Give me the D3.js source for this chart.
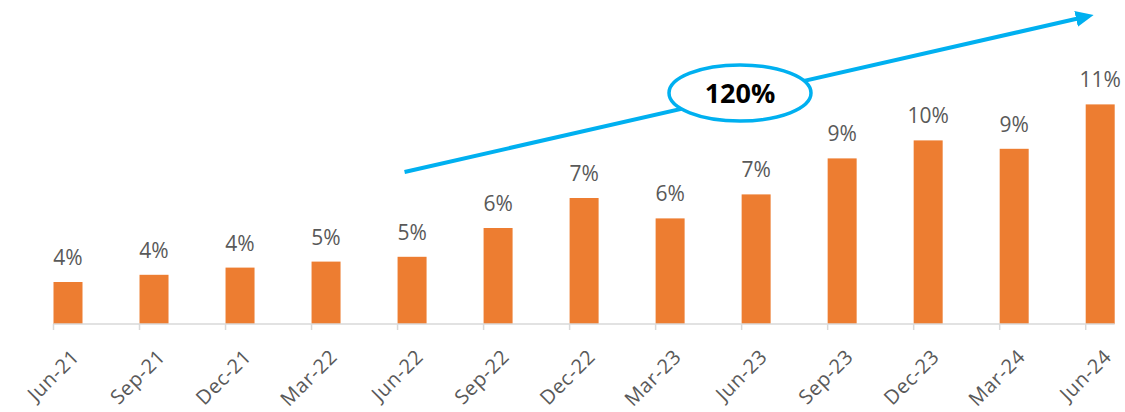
<!DOCTYPE html>
<html>
<head>
<meta charset="utf-8">
<script src="https://cdn.jsdelivr.net/npm/d3@7"></script>
<style>
  body { margin: 0; background: #fff; }
  svg { display: block; }
</style>
</head>
<body>
<div id="chart"></div>
<script>
// quarter labels on the category axis
const quarters = ['Jun-21', 'Sep-21', 'Dec-21', 'Mar-22', 'Jun-22', 'Sep-22', 'Dec-22',
  'Mar-23', 'Jun-23', 'Sep-23', 'Dec-23', 'Mar-24', 'Jun-24']
// share values in %
const shares = [3.75, 4.05, 4.35, 4.6, 4.8, 6.0, 7.25, 6.4, 7.4, 8.9, 9.65, 9.3, 11.15]
// growth callout
const growthLabel = ['120%']
const growthFrom = ['Jun-22']

const width = 1125
const height = 412
const barW = 29

const svg = d3.select('#chart')
  .append('svg')
    .attr('width', width)
    .attr('height', height)

const x = d3.scalePoint()
  .domain(quarters)
  .range([53.5, 1085.7])

// value axis in the source does not start at zero
const y = d3.scaleLinear()
  .domain([2, 13])
  .range([324, 60])

const data = quarters.map((q, i) => ({ q, v: shares[i] }))

// bars sit to the right of their tick
svg.append('g')
  .selectAll('rect')
  .data(data)
  .enter().append('rect')
    .attr('x', d => x(d.q))
    .attr('y', d => y(d.v))
    .attr('width', barW)
    .attr('height', d => y(2) - y(d.v))
    .attr('fill', '#ED7D31')

// value labels
svg.append('g')
  .selectAll('text')
  .data(data)
  .enter().append('text')
    .attr('x', d => x(d.q) + barW / 2)
    .attr('y', d => y(d.v) - 17)
    .attr('text-anchor', 'middle')
    .style('font-family', '"Open Sans", sans-serif')
    .style('font-size', '21px')
    .attr('fill', '#595959')
    .text(d => Math.round(d.v) + '%')

// category axis
const axisG = svg.append('g')
  .attr('transform', `translate(0,${y(2)})`)

axisG.append('line')
  .attr('x1', x(quarters[0]))
  .attr('x2', x(quarters[quarters.length - 1]) + barW)
  .attr('stroke', '#D9D9D9')
  .attr('stroke-width', 1.5)

axisG.selectAll('.tick')
  .data(quarters)
  .enter().append('line')
    .attr('x1', d => x(d))
    .attr('x2', d => x(d))
    .attr('y1', 0)
    .attr('y2', 6)
    .attr('stroke', '#D9D9D9')
    .attr('stroke-width', 1.5)

axisG.selectAll('text')
  .data(quarters)
  .enter().append('text')
    .attr('transform', d => `translate(${x(d) + 22},${29}) rotate(-45)`)
    .attr('text-anchor', 'end')
    .attr('dy', '0.35em')
    .style('font-family', '"Open Sans", sans-serif')
    .style('font-size', '20px')
    .style('letter-spacing', '0.6px')
    .attr('fill', '#595959')
    .text(d => d)

// growth arrow
const blue = '#00B0F0'
const defs = svg.append('defs')
defs.append('marker')
  .attr('id', 'arrowhead')
  .attr('markerUnits', 'userSpaceOnUse')
  .attr('markerWidth', 20)
  .attr('markerHeight', 20)
  .attr('viewBox', '0 -10 20 20')
  .attr('refX', 4)
  .attr('refY', 0)
  .attr('orient', 'auto')
  .append('path')
    .attr('d', 'M0,-8L18,0L0,8Z')
    .attr('fill', blue)

const ax0 = x(growthFrom[0]) + 7
const ay0 = 172
const ax1 = 1080
const ay1 = 18

svg.append('line')
  .attr('x1', ax0)
  .attr('y1', ay0)
  .attr('x2', ax1)
  .attr('y2', ay1)
  .attr('stroke', blue)
  .attr('stroke-width', 4)
  .attr('marker-end', 'url(#arrowhead)')

svg.append('ellipse')
  .attr('cx', 740)
  .attr('cy', 93)
  .attr('rx', 71)
  .attr('ry', 28)
  .attr('fill', '#fff')
  .attr('stroke', blue)
  .attr('stroke-width', 3.5)

svg.append('text')
  .attr('x', 740)
  .attr('y', 93)
  .attr('dy', '0.36em')
  .attr('text-anchor', 'middle')
  .style('font-family', '"Open Sans", sans-serif')
  .style('font-size', '27px')
  .style('font-weight', 'bold')
  .attr('fill', '#000')
  .text(growthLabel[0])
</script>
</body>
</html>
